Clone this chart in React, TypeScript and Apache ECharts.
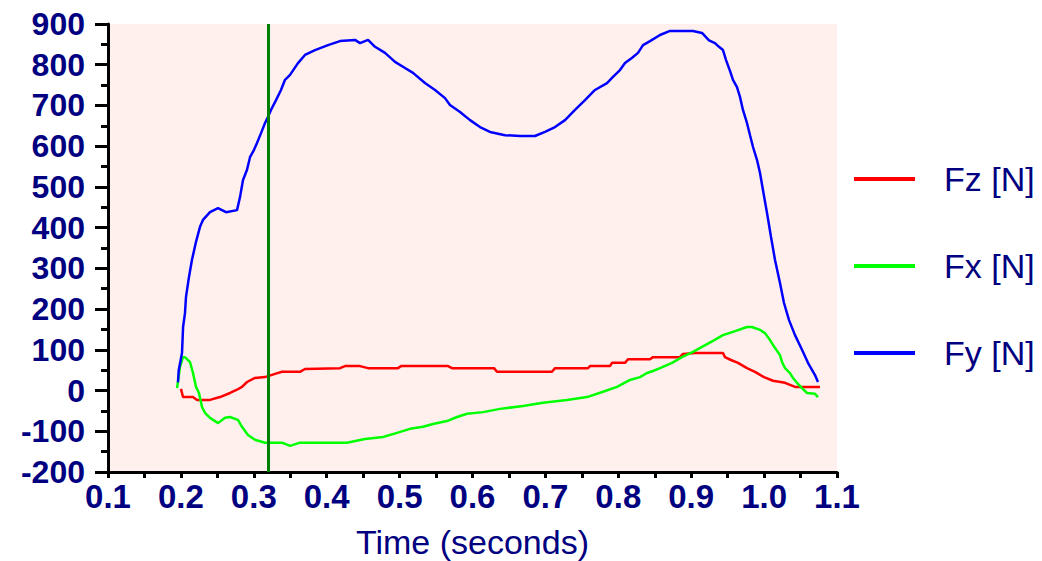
import React, { useEffect, useRef } from "react";
import * as echarts from "echarts";

// Fy [N] (blue)
const fyTime = [0.196,0.197,0.2015,0.203,0.2056,0.207,0.2111,0.2152,0.2207,0.2262,0.2303,0.2399,0.2509,0.2619,0.277,0.2811,0.2852,0.2907,0.2948,0.3003,0.3044,0.3099,0.3154,0.3195,0.3236,0.3305,0.3373,0.3428,0.3497,0.3606,0.3702,0.384,0.4018,0.4182,0.4388,0.4457,0.4567,0.4663,0.48,0.4937,0.5074,0.5184,0.5348,0.5486,0.5623,0.5691,0.5829,0.5966,0.6103,0.624,0.6446,0.6652,0.6857,0.6994,0.7132,0.7269,0.7406,0.7543,0.768,0.7845,0.7927,0.8023,0.8092,0.819,0.827,0.8339,0.8435,0.8572,0.8709,0.9025,0.9148,0.9244,0.9326,0.9381,0.9436,0.9477,0.9532,0.9573,0.9628,0.9669,0.971,0.9765,0.9807,0.9848,0.9903,0.9944,0.9985,1.004,1.0095,1.0149,1.0218,1.0273,1.0342,1.0424,1.052,1.0602,1.0698,1.0739];
const fyValues = [20,50,92,156,190,230,279,321,365,402,419,438,448,438,443,475,517,542,573,591,608,632,657,672,689,713,738,763,775,804,824,836,848,858,861,853,861,844,829,807,792,780,755,738,718,701,684,664,647,635,627,625,625,635,647,664,689,713,738,755,770,787,804,817,829,848,858,873,883,883,878,860,853,844,836,812,785,763,745,721,689,657,627,598,566,534,492,436,377,321,264,215,173,136,100,68,38,21];

// Fz [N] (red)
const fzTime = [0.2001,0.2029,0.2166,0.2221,0.2399,0.2536,0.2674,0.277,0.2838,0.2907,0.3016,0.3154,0.3291,0.3387,0.3634,0.3702,0.4182,0.4251,0.4457,0.4567,0.4978,0.5019,0.5664,0.5719,0.6295,0.6336,0.709,0.7132,0.7585,0.7612,0.7886,0.7914,0.8092,0.8133,0.8435,0.8476,0.8846,0.8887,0.9052,0.9436,0.9463,0.9546,0.9642,0.9765,0.9875,0.9999,1.0122,1.0287,1.0424,1.0766];
const fzValues = [4,-16,-16,-23,-23,-16,-6,2,9,21,31,33,41,46,46,53,55,60,60,55,55,60,60,55,55,46,46,55,55,60,60,68,68,77,77,82,82,90,92,92,82,75,68,55,46,33,24,19,9,9];

// Fx [N] (green)
const fxTime = [0.1947,0.1988,0.2029,0.2056,0.2125,0.2166,0.2207,0.2248,0.2289,0.2331,0.2399,0.2509,0.2605,0.2674,0.2783,0.2838,0.292,0.3016,0.3154,0.3387,0.3497,0.3634,0.3908,0.4278,0.4525,0.4772,0.4964,0.5143,0.5321,0.5458,0.565,0.5787,0.5925,0.6144,0.6377,0.6693,0.6967,0.7296,0.7571,0.779,0.7982,0.816,0.8298,0.8394,0.8476,0.8572,0.8737,0.8874,0.9025,0.9148,0.9299,0.9436,0.9573,0.9765,0.9834,0.9944,1.0012,1.0081,1.0122,1.0218,1.0246,1.0287,1.0355,1.0396,1.0451,1.052,1.0589,1.0698,1.0739];
const fxValues = [6,58,82,82,70,43,9,-6,-40,-55,-67,-80,-67,-65,-72,-89,-109,-121,-128,-128,-136,-128,-128,-128,-119,-114,-104,-94,-89,-82,-75,-65,-57,-53,-45,-38,-30,-23,-16,-3,9,26,33,43,48,55,68,82,95,107,122,136,144,156,156,149,141,124,112,87,70,55,43,31,19,6,-6,-8,-16];

const seriesNames = ["Fz [N]", "Fx [N]", "Fy [N]"];
const cursorTime = 0.318;

const xTicks = { min: 0.1, max: 1.1, interval: 0.1 };
const yTicks = { min: -200, max: 900, interval: 100 };

const pair = (t: number[], v: number[]) => t.map((x, i) => [x, v[i]]);

export default function App() {
  const ref = useRef<HTMLDivElement>(null);
  useEffect(() => {
    if (!ref.current) return;
    const chart = echarts.init(ref.current, null, { renderer: "svg" });
    const navy = "#000080";
    const font = "Liberation Sans";
    chart.setOption({
      animation: false,
      backgroundColor: "#ffffff",
      grid: {
        left: 108,
        right: 205,
        top: 24,
        bottom: 89,
        show: true,
        backgroundColor: "#fff0ee",
        borderWidth: 0,
        outerBoundsMode: "none",
        containLabel: false,
      },
      legend: {
        orient: "vertical",
        left: 854,
        top: 159,
        icon: "rect",
        itemWidth: 61,
        itemHeight: 4,
        itemGap: 47,
        padding: 0,
        data: seriesNames,
        textStyle: {
          color: navy,
          fontSize: 34,
          fontFamily: font,
          lineHeight: 40,
          padding: [0, 0, 0, 24],
        },
      },
      xAxis: {
        type: "value",
        min: xTicks.min,
        max: xTicks.max,
        interval: xTicks.interval,
        name: "Time (seconds)",
        nameLocation: "middle",
        nameGap: 53,
        nameTextStyle: { color: navy, fontSize: 34, fontFamily: font, lineHeight: 34 },
        axisLine: { onZero: false, lineStyle: { color: "#000", width: 3 } },
        axisTick: { show: true, length: 6, lineStyle: { color: "#000", width: 3 } },
        minorTick: { show: true, splitNumber: 2, length: 6, lineStyle: { color: "#000", width: 3 } },
        splitLine: { show: false },
        axisLabel: {
          color: navy,
          fontSize: 33,
          fontWeight: "bold",
          fontFamily: font,
          margin: 8,
          formatter: (v: number) => v.toFixed(1),
        },
      },
      yAxis: {
        type: "value",
        min: yTicks.min,
        max: yTicks.max,
        interval: yTicks.interval,
        axisLine: { show: true, onZero: false, lineStyle: { color: "#000", width: 3 } },
        axisTick: { show: true, length: 13, lineStyle: { color: "#000", width: 3 } },
        minorTick: { show: true, splitNumber: 2, length: 7, lineStyle: { color: "#000", width: 3 } },
        splitLine: { show: false },
        axisLabel: {
          color: navy,
          fontSize: 32,
          fontWeight: "bold",
          fontFamily: font,
          margin: 23,
        },
      },
      series: [
        {
          name: seriesNames[0],
          type: "line",
          data: pair(fzTime, fzValues),
          symbol: "none",
          color: "#ff0000",
          lineStyle: { color: "#ff0000", width: 2.5 },
          z: 3,
        },
        {
          name: seriesNames[1],
          type: "line",
          data: pair(fxTime, fxValues),
          symbol: "none",
          color: "#00ff00",
          lineStyle: { color: "#00ff00", width: 2.5 },
          z: 3,
        },
        {
          name: seriesNames[2],
          type: "line",
          data: pair(fyTime, fyValues),
          symbol: "none",
          color: "#0000ff",
          lineStyle: { color: "#0000ff", width: 2.5 },
          z: 3,
          markLine: {
            silent: true,
            symbol: ["none", "none"],
            label: { show: false },
            lineStyle: { color: "#008000", width: 3, type: "solid" },
            data: [{ xAxis: cursorTime }],
          },
        },
      ],
    });
    return () => chart.dispose();
  }, []);
  return (
    <div
      ref={ref}
      style={{ position: "fixed", left: 0, top: 0, width: 1042, height: 561 }}
    />
  );
}
